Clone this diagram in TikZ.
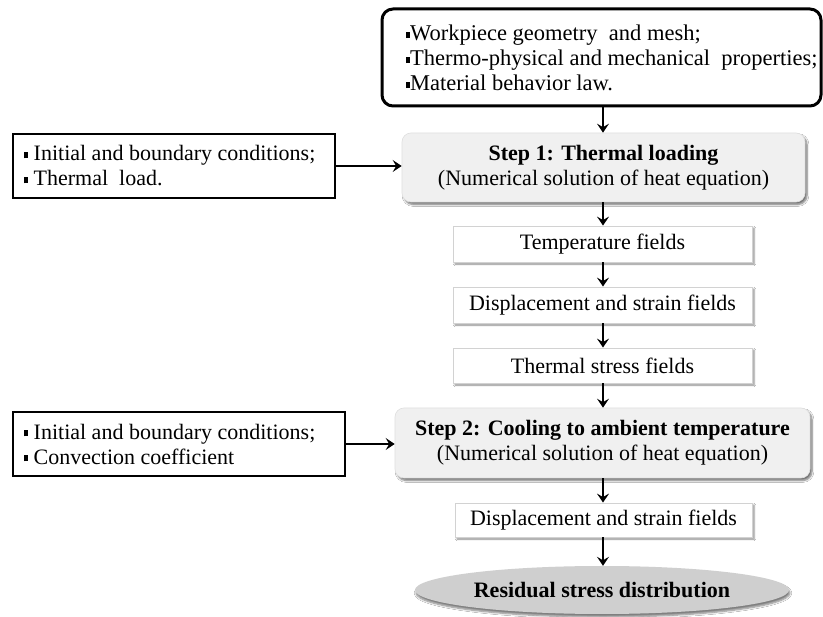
\documentclass[tikz,border=0pt]{standalone}
\usepackage{fontspec}
\setmainfont{Liberation Serif}
\usetikzlibrary{shapes.geometric,shadows.blur,arrows.meta}
\newcommand\bul{\raisebox{0.25ex}{\rule{4pt}{6pt}}}
\begin{document}
\begin{tikzpicture}[x=1pt,y=-1pt,
  every node/.style={font=\fontsize{22}{25}\selectfont, inner sep=0pt},
  conn/.style={line width=2.5pt, -{Stealth[length=9pt,width=12pt,inset=3.5pt]}},
  inbox/.style={draw=black, line width=2.7pt, minimum height=64pt, fill=white},
  stepbox/.style={rounded corners=9pt, fill=gray!12, draw=gray!25, line width=0.6pt,
     blur shadow={shadow xshift=2pt, shadow yshift=-2.5pt, shadow blur steps=6, shadow opacity=55}},
  fieldbox/.style={draw=gray!35, line width=0.8pt, fill=white,
     blur shadow={shadow xshift=2pt, shadow yshift=-2pt, shadow blur steps=5, shadow opacity=45}},
]
\useasboundingbox (0,0) rectangle (823,617);
\fill[white] (0,0) rectangle (823,617);

% top input box
\node[draw=black, line width=3pt, rounded corners=11pt, minimum width=439pt, minimum height=97pt] (top) at (601.5,57.5) {};
\node[anchor=west, align=left, font=\fontsize{22.5}{25}\selectfont] (toptext) at (406,58) {\bul Workpiece geometry\ \ and mesh;\\ \bul Thermo-physical and mechanical\ \ properties;\\ \bul Material behavior law.};

% step 1
\node[stepbox, minimum width=403pt, minimum height=69pt, align=center] (s1) at (603.5,167.5) {\textbf{Step 1: Thermal loading}\\(Numerical solution of heat equation)};
\node[inbox, minimum width=322pt, align=left, anchor=center] (l1) at (174,166) {};
\node[anchor=west, align=left] (l1text) at (24,166) {\bul\ Initial and boundary conditions;\\ \bul\ Thermal\ \ load.};

% fields
\node[fieldbox, minimum width=299pt, minimum height=36pt] (temp) at (602.5,244) {Temperature fields};
\node[fieldbox, minimum width=299pt, minimum height=36pt] (disp1) at (602.5,305) {Displacement and strain fields};
\node[fieldbox, minimum width=299pt, minimum height=35pt] (stress) at (602.5,365.5) {Thermal stress fields};

% step 2
\node[stepbox, minimum width=415pt, minimum height=70pt, align=center] (s2) at (602.5,443) {\textbf{Step 2: Cooling to ambient temperature}\\(Numerical solution of heat equation)};
\node[inbox, minimum width=332pt] (l2) at (179,444) {};
\node[anchor=west, align=left] (l2text) at (24,444) {\bul\ Initial and boundary conditions;\\ \bul\ Convection coefficient};

\node[fieldbox, minimum width=297pt, minimum height=34pt] (disp2) at (603.5,520) {Displacement and strain fields};

\node[ellipse, fill=gray!38, minimum width=374pt, minimum height=48pt,
  blur shadow={shadow xshift=1pt, shadow yshift=-3pt, shadow blur steps=6, shadow opacity=50}] (res) at (602,590) {\textbf{Residual stress distribution}};

% connectors
\coordinate (t1) at (603,107);
\draw[conn] (top.south -| t1) -- (s1.north -| t1);
\draw[conn] (s1.south -| t1) -- (temp.north -| t1);
\draw[conn] (temp.south -| t1) -- (disp1.north -| t1);
\draw[conn] (disp1.south -| t1) -- (stress.north -| t1);
\draw[conn] (stress.south -| t1) -- (s2.north -| t1);
\draw[conn] (s2.south -| t1) -- (disp2.north -| t1);
\draw[conn] (disp2.south -| t1) -- (res.north -| t1);
\draw[conn] (l1.east) -- (s1.west |- l1.east);
\draw[conn] (l2.east) -- (s2.west |- l2.east);
\end{tikzpicture}
\end{document}
